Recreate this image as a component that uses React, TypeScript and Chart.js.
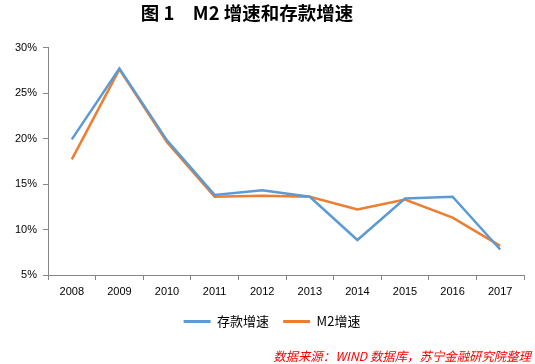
import React, { useEffect, useRef } from "react";
import { Chart, registerables } from "chart.js";

Chart.register(...registerables);

const years = ["2008", "2009", "2010", "2011", "2012", "2013", "2014", "2015", "2016", "2017"];
const depositGrowth = [19.9, 27.7, 19.8, 13.8, 14.3, 13.6, 8.85, 13.4, 13.6, 7.8];
const m2Growth = [17.7, 27.6, 19.6, 13.6, 13.7, 13.6, 12.2, 13.3, 11.3, 8.2];
const titleText = "图 1　M2 增速和存款增速";
const sourceText = "数据来源：WIND 数据库，苏宁金融研究院整理";

const cjk = '"Noto Sans CJK SC", sans-serif';

const textPlugin = {
  id: "textPlugin",
  afterDraw(chart: any) {
    const ctx = chart.ctx;
    ctx.save();
    ctx.fillStyle = "#000";
    ctx.font = `bold 18.5px ${cjk}`;
    ctx.textAlign = "center";
    ctx.textBaseline = "middle";
    ctx.fillText(titleText, 247, 13);
    ctx.fillStyle = "#ff0000";
    ctx.font = `italic 12.4px ${cjk}`;
    ctx.textAlign = "right";
    ctx.fillText(sourceText, 531, 356);
    ctx.restore();
  },
};

export default function App() {
  const ref = useRef<HTMLCanvasElement>(null);
  useEffect(() => {
    document.body.style.margin = "0";
    const chart = new Chart(ref.current!, {
      type: "line",
      data: {
        labels: years,
        datasets: [
          {
            label: "存款增速",
            data: depositGrowth,
            borderColor: "#5B9BD5",
            backgroundColor: "#5B9BD5",
            borderWidth: 2.5,
            pointRadius: 0,
            tension: 0,
          },
          {
            label: "M2增速",
            data: m2Growth,
            borderColor: "#ED7D31",
            backgroundColor: "#ED7D31",
            borderWidth: 2.5,
            pointRadius: 0,
            tension: 0,
          },
        ],
      },
      options: {
        animation: false,
        responsive: false,
        layout: { padding: { top: 47.5, right: -9, left: 0, bottom: 26 } },
        plugins: {
          title: { display: false },
          tooltip: { enabled: false },
          legend: {
            position: "bottom",
            labels: {
              boxWidth: 27,
              boxHeight: 3,
              padding: 14,
              color: "#000",
              font: { family: cjk, size: 13 },
              generateLabels(chart: any) {
                const items = Chart.defaults.plugins.legend.labels.generateLabels(chart);
                return items.map((it: any) => ({ ...it, lineWidth: 0 }));
              },
            },
          },
        },
        scales: {
          x: {
            offset: true,
            grid: {
              offset: true,
              display: true,
              drawOnChartArea: false,
              drawTicks: true,
              tickLength: 5,
              color: "#868686",
            },
            border: { color: "#868686", width: 1 },
            ticks: {
              color: "#000",
              font: { family: '"Liberation Sans", sans-serif', size: 11 },
              padding: 5,
              maxRotation: 0,
            },
            afterFit(scale: any) {
              scale.height = 26;
            },
          },
          y: {
            min: 5,
            max: 30,
            grid: {
              display: true,
              drawOnChartArea: false,
              drawTicks: true,
              tickLength: 5,
              color: "#868686",
            },
            border: { color: "#868686", width: 1 },
            ticks: {
              stepSize: 5,
              color: "#000",
              font: { family: '"Liberation Sans", sans-serif', size: 11 },
              padding: 6,
              callback: (v: any) => v + "%",
            },
            afterFit(scale: any) {
              scale.width = 48;
            },
          },
          spacer: {
            type: "linear",
            position: "right",
            display: true,
            grid: { display: false, drawTicks: false },
            border: { display: false },
            ticks: { display: false },
            afterFit(scale: any) {
              scale.width = 20;
            },
          },
        },
      },
      plugins: [textPlugin],
    });
    return () => chart.destroy();
  }, []);
  return (
    <div style={{ position: "absolute", left: 0, top: 0, width: 535, height: 364 }}>
      <canvas ref={ref} width={535} height={364} />
    </div>
  );
}
